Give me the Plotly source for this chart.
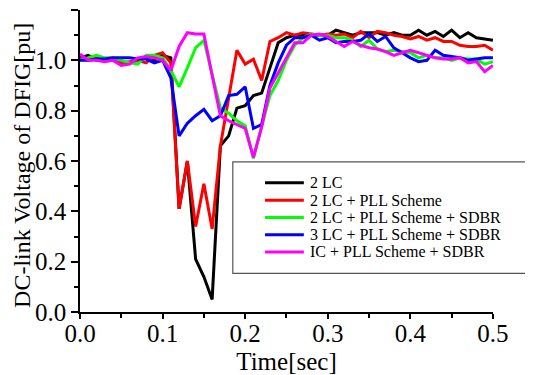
import plotly.graph_objects as go

time = [round(i * 0.01, 2) for i in range(51)]

lc2 = [1.01, 1.02, 1.00, 1.00, 1.00, 0.99, 0.99, 1.00, 1.01, 1.00,
       1.02, 1.01, 0.41, 0.60, 0.21, 0.14, 0.05, 0.66, 0.70, 0.81,
       0.82, 0.86, 0.87, 0.97, 1.07, 1.09, 1.10, 1.10, 1.10, 1.10,
       1.10, 1.12, 1.11, 1.10, 1.11, 1.11, 1.11, 1.10, 1.11, 1.10,
       1.10, 1.12, 1.10, 1.115, 1.095, 1.12, 1.09, 1.11, 1.09, 1.085,
       1.08]

lc2_pll = [1.01, 1.00, 1.01, 1.00, 1.00, 0.99, 0.995, 1.00, 0.99, 1.02,
           1.03, 0.99, 0.41, 0.60, 0.34, 0.51, 0.33, 0.66, 0.85, 1.04,
           0.985, 1.005, 0.92, 1.075, 1.09, 1.11, 1.10, 1.11, 1.105, 1.10,
           1.105, 1.10, 1.105, 1.09, 1.115, 1.09, 1.115, 1.11, 1.10, 1.095,
           1.085, 1.095, 1.08, 1.09, 1.075, 1.075, 1.06, 1.055, 1.055, 1.06,
           1.04]

lc2_pll_sdbr = [1.00, 1.01, 1.02, 1.01, 1.01, 1.00, 0.99, 0.985, 1.02, 1.02,
                1.01, 0.96, 0.895, 0.97, 1.05, 1.08, 0.95, 0.81, 0.79, 0.76,
                0.74, 0.61, 0.74, 0.86, 0.92, 1.00, 1.06, 1.09, 1.105, 1.10,
                1.10, 1.09, 1.09, 1.08, 1.055, 1.08, 1.045, 1.035, 1.04, 1.035,
                1.03, 1.01, 1.02, 1.01, 1.01, 1.00, 1.01, 1.005, 1.005, 0.985,
                0.995]

lc3_pll_sdbr = [1.00, 1.00, 1.005, 1.005, 1.01, 1.01, 1.01, 1.005, 1.005, 0.99,
                1.00, 0.93, 0.70, 0.75, 0.78, 0.805, 0.76, 0.78, 0.86, 0.865,
                0.895, 0.73, 0.745, 0.90, 0.99, 1.06, 1.09, 1.09, 1.10, 1.08,
                1.09, 1.07, 1.075, 1.075, 1.08, 1.105, 1.075, 1.095, 1.05, 1.03,
                1.01, 0.995, 1.00, 1.04, 1.02, 1.015, 1.01, 1.00, 1.005, 1.01,
                1.01]

ic_pll_sdbr = [1.025, 1.00, 1.00, 0.995, 1.00, 0.98, 0.985, 1.01, 1.015, 1.01,
               1.00, 0.96, 1.055, 1.11, 1.105, 1.105, 0.94, 0.78, 0.76, 0.745,
               0.73, 0.615, 0.735, 0.89, 0.95, 1.01, 1.07, 1.07, 1.10, 1.105,
               1.095, 1.075, 1.055, 1.075, 1.06, 1.05, 1.045, 1.035, 1.02, 1.03,
               1.04, 1.03, 1.02, 1.01, 1.005, 1.005, 1.01, 0.99, 0.995, 0.955,
               0.98]

names = ["2 LC", "2 LC + PLL Scheme", "2 LC + PLL Scheme + SDBR",
         "3 LC + PLL Scheme + SDBR", "IC + PLL Scheme + SDBR"]
colors = ["#000000", "#ff0000", "#00ff00", "#0000ff", "#ff00ff"]
series = [lc2, lc2_pll, lc2_pll_sdbr, lc3_pll_sdbr, ic_pll_sdbr]

x_title = "Time[sec]"
y_title = "DC-link Voltage of DFIG[pu]"

fig = go.Figure()
for n, c, s in zip(names, colors, series):
    fig.add_trace(go.Scatter(x=time, y=s, mode="lines", name=n,
                             line=dict(color=c, width=3), showlegend=False))

font_family = "Liberation Serif, Times New Roman, serif"
axis_common = dict(showline=True, linecolor="black", linewidth=1.5,
                   ticks="outside", tickwidth=1.5, tickcolor="black",
                   showgrid=False, zeroline=False, mirror=False, automargin=False,
                   tickfont=dict(family=font_family, size=25, color="black"))

fig.update_xaxes(range=[0, 0.5001], dtick=0.1, tick0=0, tickformat=".1f", ticklen=5,
                 ticklabelstandoff=-7,
                 minor=dict(dtick=0.05, ticks="outside", ticklen=4, tickwidth=1.5, tickcolor="black"),
                 title=dict(text=x_title, font=dict(family=font_family, size=25, color="black"), standoff=9),
                 **axis_common)
fig.update_yaxes(range=[0, 1.2001], dtick=0.2, tick0=0, tickformat=".1f", ticklen=7,
                 minor=dict(dtick=0.1, ticks="outside", ticklen=4, tickwidth=1.5, tickcolor="black"),
                 **axis_common)

# y-axis title placed as a rotated annotation close to the left edge
fig.add_annotation(xref="paper", yref="paper", x=-0.142, y=0.485,
                   xanchor="center", yanchor="middle", showarrow=False,
                   textangle=-90, text=y_title,
                   font=dict(family=font_family, size=24, color="black"))

# legend box (manual, to match the compact row spacing of the reference)
fig.add_shape(type="rect", xref="paper", yref="paper",
              x0=0.370, x1=1.092, y0=0.128, y1=0.497,
              line=dict(color="#555555", width=1.2), fillcolor="white", layer="above")
row0 = 0.4276
row_gap = 0.0572
for i, (n, c) in enumerate(zip(names, colors)):
    yy = row0 - i * row_gap
    fig.add_shape(type="line", xref="paper", yref="paper",
                  x0=0.448, x1=0.542, y0=yy, y1=yy,
                  line=dict(color=c, width=3), layer="above")
    fig.add_annotation(xref="paper", yref="paper", x=0.552, y=yy,
                       xanchor="left", yanchor="middle", showarrow=False,
                       text=n, font=dict(family=font_family, size=16, color="black"))

# the page body adds an 8 px offset, so the figure is sized to fit the window
fig.update_layout(
    width=525, height=367,
    margin=dict(l=72, r=40, t=2, b=63),
    paper_bgcolor="white", plot_bgcolor="white",
    showlegend=False,
)

fig.write_html("out.html")
